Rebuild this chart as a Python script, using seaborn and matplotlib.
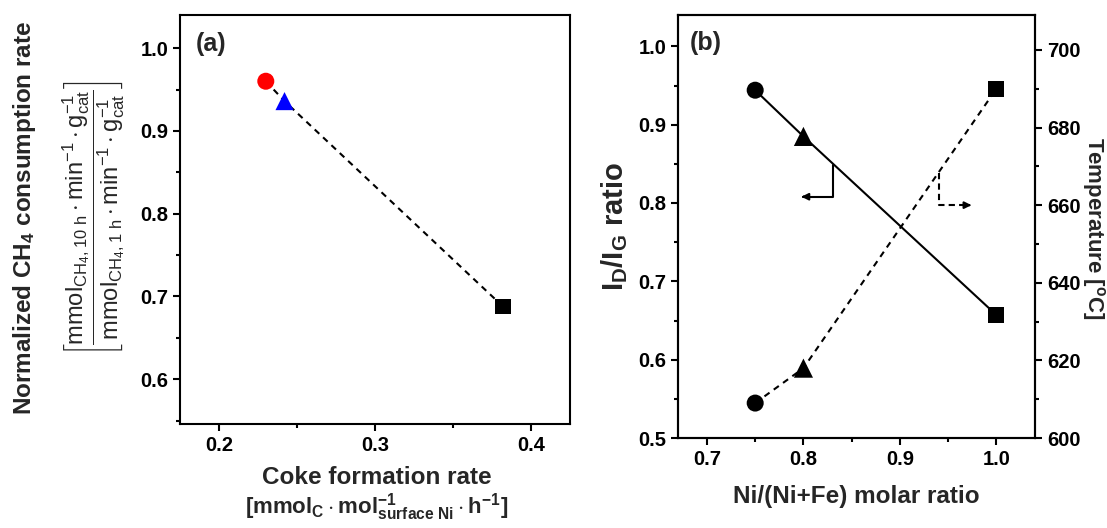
import matplotlib
matplotlib.use("Agg")
import matplotlib.pyplot as plt
from matplotlib.ticker import MultipleLocator
import seaborn as sns
import pandas as pd

# panel (a): coke formation vs normalized CH4 consumption
coke_rate = [0.230, 0.242, 0.382]
norm_ch4 = [0.960, 0.936, 0.688]
a_markers = ["circle", "triangle", "square"]
a_colors = ["red", "blue", "black"]

# panel (b): Ni/(Ni+Fe) ratio vs ID/IG and temperature
ni_ratio = [0.75, 0.80, 1.00]
id_ig = [0.944, 0.885, 0.657]
temperature = [609, 618, 690]
b_markers = ["circle", "triangle", "square"]

sns.set_style("ticks")
plt.rcParams['font.family'] = ['Liberation Sans', 'DejaVu Sans']
plt.rcParams['font.weight'] = 'bold'
plt.rcParams['mathtext.fontset'] = 'custom'
plt.rcParams['mathtext.rm'] = 'Liberation Sans:weight=normal'
plt.rcParams['mathtext.bf'] = 'Liberation Sans:bold'
plt.rcParams['mathtext.it'] = 'Liberation Sans:italic'
plt.rcParams['axes.linewidth'] = 1.5
plt.rcParams['axes.edgecolor'] = 'black'

mk = {"circle": "o", "triangle": "^", "square": "s"}

fig = plt.figure(figsize=(11.07, 5.28), dpi=100)

def style_axis(ax, fs=14.5):
    ax.tick_params(which='both', direction='out', width=1.5, colors='black', labelsize=fs)
    ax.tick_params(which='major', length=5)
    ax.tick_params(which='minor', length=3)
    for lab in ax.get_xticklabels() + ax.get_yticklabels():
        lab.set_fontweight('bold')

# ---- panel (a)
ax1 = fig.add_axes([180/1107, 1-424/528, 390/1107, 409/528])
dfa = pd.DataFrame({"x": coke_rate, "y": norm_ch4, "m": a_markers})
sns.lineplot(data=dfa, x="x", y="y", ax=ax1, color="black", linestyle=(0, (3, 2.5)), lw=1.5)
sns.scatterplot(data=dfa, x="x", y="y", hue="m", style="m", ax=ax1,
                palette=dict(zip(a_markers, a_colors)), markers=mk,
                s=[150, 170, 120], edgecolor="none", legend=False, zorder=3)
ax1.set_xlim(0.175, 0.425)
ax1.set_ylim(0.546, 1.04)
ax1.xaxis.set_major_locator(MultipleLocator(0.1))
ax1.xaxis.set_minor_locator(MultipleLocator(0.05))
ax1.yaxis.set_major_locator(MultipleLocator(0.1))
ax1.yaxis.set_minor_locator(MultipleLocator(0.05))
ax1.set_xlabel("")
ax1.set_ylabel("")
style_axis(ax1)
ax1.text(0.04, 0.93, "(a)", transform=ax1.transAxes, fontsize=18, fontweight='bold', va='center')

fig.text(25/1107, 1-218/528, r"Normalized CH$_\mathbf{4}$ consumption rate", rotation=90,
         ha='center', va='center', fontsize=17.5, fontweight='bold')
fig.text(94/1107, 1-218/528,
         r"$\left[\dfrac{\mathrm{mmol_{CH_4,10\ h}\cdot min^{-1}\cdot g_{cat}^{-1}}}"
         r"{\mathrm{mmol_{CH_4,1\ h}\cdot min^{-1}\cdot g_{cat}^{-1}}}\right]$",
         rotation=90, ha='center', va='center', fontsize=17)
fig.text(377/1107, 1-477/528, "Coke formation rate", ha='center', va='center',
         fontsize=17.5, fontweight='bold')
fig.text(377/1107, 1-507/528,
         r"$\mathbf{[mmol_C\cdot mol^{-1}_{surface\ Ni}\cdot h^{-1}]}$",
         ha='center', va='center', fontsize=16)

# ---- panel (b)
ax2 = fig.add_axes([678/1107, 1-438/528, 357/1107, 423/528])
dfb = pd.DataFrame({"x": ni_ratio, "idig": id_ig, "temp": temperature, "m": b_markers})
sns.lineplot(data=dfb, x="x", y="idig", ax=ax2, color="black", lw=1.5)
sns.scatterplot(data=dfb, x="x", y="idig", style="m", markers=mk, color="black",
                s=[150, 190, 130], edgecolor="none", legend=False, ax=ax2, zorder=3)
ax2.set_xlim(0.67, 1.04)
ax2.set_ylim(0.5, 1.04)
ax2.xaxis.set_major_locator(MultipleLocator(0.1))
ax2.xaxis.set_minor_locator(MultipleLocator(0.05))
ax2.yaxis.set_major_locator(MultipleLocator(0.1))
ax2.yaxis.set_minor_locator(MultipleLocator(0.05))
ax2.set_xlabel("")
ax2.set_ylabel(r"I$_\mathbf{D}$/I$_\mathbf{G}$ ratio", fontsize=21, fontweight='bold', labelpad=6)
style_axis(ax2)
ax2.text(0.034, 0.933, "(b)", transform=ax2.transAxes, fontsize=18, fontweight='bold', va='center')

# arrow pointing to the left axis
ax2.plot([0.831, 0.831, 0.80], [0.848, 0.808, 0.808], color="black", lw=1.5)
ax2.annotate("", xy=(0.795, 0.808), xytext=(0.805, 0.808),
             arrowprops=dict(arrowstyle="-|>", color="black", lw=1.5, mutation_scale=10))

ax3 = ax2.twinx()
sns.lineplot(data=dfb, x="x", y="temp", ax=ax3, color="black", linestyle=(0, (3, 2.5)), lw=1.5)
sns.scatterplot(data=dfb, x="x", y="temp", style="m", markers=mk, color="black",
                s=[150, 190, 130], edgecolor="none", legend=False, ax=ax3, zorder=3)
ax3.set_ylim(600, 709)
ax3.yaxis.set_major_locator(MultipleLocator(20))
ax3.yaxis.set_minor_locator(MultipleLocator(10))
ax3.set_xlabel("")
ax3.set_ylabel("")
style_axis(ax3)

# arrow pointing to the right axis
ax3.plot([0.94, 0.94, 0.965], [668.3, 660, 660], color="black", lw=1.5, linestyle=(0, (3, 2)))
ax3.annotate("", xy=(0.977, 660), xytext=(0.967, 660),
             arrowprops=dict(arrowstyle="-|>", color="black", lw=1.5, mutation_scale=10))

fig.text(1093/1107, 1-228/528, "Temperature [$^\\mathbf{o}$C]", rotation=270,
         ha='center', va='center', fontsize=16, fontweight='bold')
fig.text(856/1107, 1-497/528, "Ni/(Ni+Fe) molar ratio", ha='center', va='center',
         fontsize=17.5, fontweight='bold')

fig.savefig("out.png", dpi=100)
